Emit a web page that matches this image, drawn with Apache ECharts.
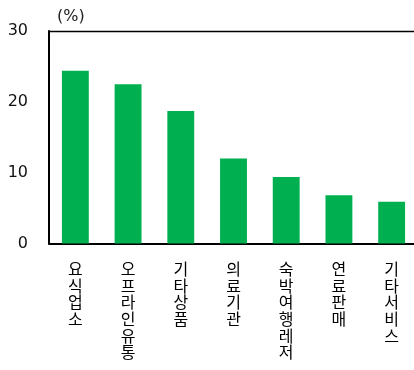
<!DOCTYPE html>
<html>
<head>
<meta charset="utf-8">
<script src="https://cdn.jsdelivr.net/npm/echarts@6/dist/echarts.min.js"></script>
<style>
  html, body { margin: 0; padding: 0; background: #fff; overflow: hidden; }
  #chart { width: 418px; height: 370px; }
</style>
</head>
<body>
<div id="chart"></div>
<script>
// Share by merchant category (%)
const categories = ['요식업소', '오프라인유통', '기타상품', '의료기관', '숙박여행레저', '연료판매', '기타서비스'];
const shares = [24.4, 22.5, 18.7, 12.0, 9.4, 6.8, 5.9];
const yTicks = [0, 10, 20, 30];
const unitLabel = '(%)';

const chart = echarts.init(document.getElementById('chart'), null, { renderer: 'canvas' });

chart.setOption({
  animation: false,
  backgroundColor: '#ffffff',
  // the chart is a few pixels wider than the window, so the plot runs off the right edge
  grid: { left: 49, top: 31, right: 0, height: 212.5 },
  graphic: [{
    type: 'text', left: 57, top: 9,
    style: { text: unitLabel, font: '16px "DejaVu Sans", sans-serif', fill: '#222' }
  }],
  xAxis: [{
    type: 'category',
    data: categories,
    axisLine: { show: true, lineStyle: { color: '#000', width: 2 } },
    axisTick: { show: false },
    axisLabel: {
      interval: 0,
      margin: 17,
      color: '#000',
      fontFamily: '"Noto Sans CJK KR", sans-serif',
      fontSize: 16,
      lineHeight: 16.7,
      verticalAlign: 'top',
      formatter: v => v.split('').join('\n')
    }
  }, {
    // top frame line
    type: 'category',
    data: categories,
    position: 'top',
    axisLine: { show: true, lineStyle: { color: '#000', width: 1.3 } },
    axisTick: { show: false },
    axisLabel: { show: false }
  }],
  yAxis: {
    type: 'value',
    min: yTicks[0],
    max: yTicks[yTicks.length - 1],
    interval: yTicks[1] - yTicks[0],
    axisLine: { show: true, lineStyle: { color: '#000', width: 2 } },
    axisTick: { show: false },
    splitLine: { show: false },
    axisLabel: {
      margin: 21,
      color: '#111',
      fontFamily: '"DejaVu Sans", sans-serif',
      fontSize: 16
    }
  },
  series: [{
    type: 'bar',
    data: shares,
    barWidth: '51%',
    itemStyle: { color: '#00B050' }
  }]
});
</script>
</body>
</html>
